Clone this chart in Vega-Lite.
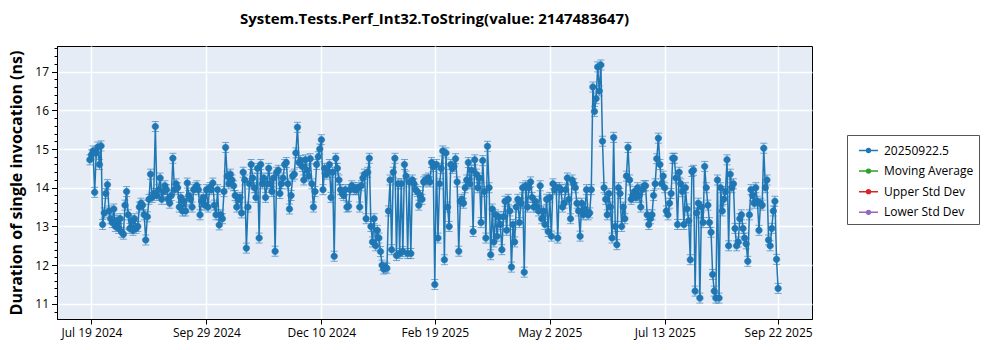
{
"$schema": "https://vega.github.io/schema/vega-lite/v6.json",
"width": 755, "height": 273,
"autosize": {"type": "none"},
"padding": {"left": 57, "top": 46, "right": 188, "bottom": 31},
"background": "white",
"title": {"text": "System.Tests.Perf_Int32.ToString(value: 2147483647)", "font": "Open Sans", "fontSize": 15, "fontWeight": "bold", "anchor": "middle", "offset": 19, "color": "black"},
"config": {
 "view": {"fill": "#E5ECF6", "stroke": "black", "strokeWidth": 1},
 "axis": {"labelFont": "Open Sans", "labelFontSize": 12, "labelColor": "black", "tickColor": "black", "domainColor": "black", "gridColor": "white", "gridWidth": 1.5, "titleFont": "Open Sans", "titleColor": "black"}
},
"data": {"values": [
{"d":"2024-07-18","v":14.72},{"d":"2024-07-19","v":14.85},{"d":"2024-07-20","v":14.95},{"d":"2024-07-21","v":13.88},{"d":"2024-07-22","v":14.9},{"d":"2024-07-23","v":15.05},{"d":"2024-07-24","v":14.6},{"d":"2024-07-25","v":15.08},{"d":"2024-07-26","v":13.05},{"d":"2024-07-27","v":13.35},{"d":"2024-07-28","v":13.85},{"d":"2024-07-29","v":14.08},{"d":"2024-07-30","v":13.4},{"d":"2024-07-31","v":13.2},
{"d":"2024-08-01","v":13.1},{"d":"2024-08-02","v":13.45},{"d":"2024-08-03","v":13.0},{"d":"2024-08-04","v":13.15},{"d":"2024-08-05","v":12.95},{"d":"2024-08-06","v":13.2},{"d":"2024-08-07","v":12.85},{"d":"2024-08-08","v":12.8},{"d":"2024-08-09","v":13.55},{"d":"2024-08-10","v":13.9},{"d":"2024-08-11","v":13.3},{"d":"2024-08-12","v":12.95},{"d":"2024-08-13","v":13.15},{"d":"2024-08-14","v":12.9},{"d":"2024-08-15","v":13.2},{"d":"2024-08-16","v":12.95},{"d":"2024-08-17","v":13.0},{"d":"2024-08-18","v":13.5},{"d":"2024-08-19","v":13.6},{"d":"2024-08-20","v":13.55},{"d":"2024-08-21","v":13.3},{"d":"2024-08-22","v":12.65},{"d":"2024-08-23","v":13.25},{"d":"2024-08-24","v":13.7},{"d":"2024-08-25","v":14.35},{"d":"2024-08-26","v":13.75},{"d":"2024-08-27","v":13.85},{"d":"2024-08-28","v":15.58},{"d":"2024-08-29","v":13.8},{"d":"2024-08-30","v":13.95},{"d":"2024-08-31","v":14.25},
{"d":"2024-09-01","v":13.7},{"d":"2024-09-02","v":13.9},{"d":"2024-09-03","v":14.05},{"d":"2024-09-04","v":13.95},{"d":"2024-09-05","v":13.7},{"d":"2024-09-06","v":13.6},{"d":"2024-09-07","v":13.8},{"d":"2024-09-08","v":14.76},{"d":"2024-09-09","v":13.95},{"d":"2024-09-10","v":14.1},{"d":"2024-09-11","v":14.0},{"d":"2024-09-12","v":13.5},{"d":"2024-09-13","v":13.75},{"d":"2024-09-14","v":13.4},{"d":"2024-09-15","v":13.65},{"d":"2024-09-16","v":13.4},{"d":"2024-09-17","v":14.12},{"d":"2024-09-18","v":13.8},{"d":"2024-09-19","v":13.7},{"d":"2024-09-20","v":13.5},{"d":"2024-09-21","v":13.95},{"d":"2024-09-22","v":14.0},{"d":"2024-09-23","v":14.05},{"d":"2024-09-24","v":13.95},{"d":"2024-09-25","v":13.3},{"d":"2024-09-26","v":13.65},{"d":"2024-09-27","v":13.75},{"d":"2024-09-28","v":13.55},{"d":"2024-09-29","v":13.95},{"d":"2024-09-30","v":13.5},
{"d":"2024-10-01","v":14.0},{"d":"2024-10-02","v":13.95},{"d":"2024-10-03","v":14.12},{"d":"2024-10-04","v":13.55},{"d":"2024-10-05","v":13.3},{"d":"2024-10-06","v":13.95},{"d":"2024-10-07","v":13.04},{"d":"2024-10-08","v":13.3},{"d":"2024-10-09","v":13.2},{"d":"2024-10-10","v":13.9},{"d":"2024-10-11","v":15.04},{"d":"2024-10-12","v":14.3},{"d":"2024-10-13","v":14.1},{"d":"2024-10-14","v":14.35},{"d":"2024-10-15","v":14.2},{"d":"2024-10-16","v":14.05},{"d":"2024-10-17","v":13.8},{"d":"2024-10-18","v":13.5},{"d":"2024-10-19","v":13.7},{"d":"2024-10-20","v":13.75},{"d":"2024-10-21","v":13.35},{"d":"2024-10-22","v":14.4},{"d":"2024-10-23","v":14.2},{"d":"2024-10-24","v":12.44},{"d":"2024-10-25","v":13.5},{"d":"2024-10-26","v":14.1},{"d":"2024-10-27","v":14.6},{"d":"2024-10-28","v":14.25},{"d":"2024-10-29","v":14.0},{"d":"2024-10-30","v":13.75},{"d":"2024-10-31","v":14.5},
{"d":"2024-11-01","v":12.7},{"d":"2024-11-02","v":14.6},{"d":"2024-11-03","v":14.1},{"d":"2024-11-04","v":14.25},{"d":"2024-11-05","v":13.75},{"d":"2024-11-06","v":14.1},{"d":"2024-11-07","v":14.5},{"d":"2024-11-08","v":14.1},{"d":"2024-11-09","v":13.9},{"d":"2024-11-10","v":14.25},{"d":"2024-11-11","v":12.36},{"d":"2024-11-12","v":14.4},{"d":"2024-11-13","v":14.45},{"d":"2024-11-14","v":13.85},{"d":"2024-11-15","v":14.1},{"d":"2024-11-16","v":14.25},{"d":"2024-11-17","v":14.6},{"d":"2024-11-18","v":14.65},{"d":"2024-11-19","v":14.1},{"d":"2024-11-20","v":13.45},{"d":"2024-11-21","v":13.8},{"d":"2024-11-22","v":14.3},{"d":"2024-11-23","v":14.35},{"d":"2024-11-24","v":14.9},{"d":"2024-11-25","v":15.56},{"d":"2024-11-26","v":14.65},{"d":"2024-11-27","v":14.7},{"d":"2024-11-28","v":14.55},{"d":"2024-11-29","v":14.2},{"d":"2024-11-30","v":14.72},
{"d":"2024-12-01","v":14.45},{"d":"2024-12-02","v":14.3},{"d":"2024-12-03","v":14.75},{"d":"2024-12-04","v":14.1},{"d":"2024-12-05","v":13.5},{"d":"2024-12-06","v":13.9},{"d":"2024-12-07","v":14.6},{"d":"2024-12-08","v":14.8},{"d":"2024-12-09","v":15.0},{"d":"2024-12-10","v":15.24},{"d":"2024-12-11","v":13.95},{"d":"2024-12-12","v":14.5},{"d":"2024-12-13","v":14.35},{"d":"2024-12-14","v":14.4},{"d":"2024-12-15","v":14.6},{"d":"2024-12-16","v":13.75},{"d":"2024-12-17","v":14.4},{"d":"2024-12-18","v":12.23},{"d":"2024-12-19","v":14.76},{"d":"2024-12-20","v":14.5},{"d":"2024-12-21","v":14.2},{"d":"2024-12-22","v":13.95},{"d":"2024-12-23","v":13.85},{"d":"2024-12-24","v":13.8},{"d":"2024-12-25","v":13.95},{"d":"2024-12-26","v":13.5},{"d":"2024-12-27","v":13.52},{"d":"2024-12-28","v":13.95},{"d":"2024-12-29","v":14.05},{"d":"2024-12-30","v":14.0},{"d":"2024-12-31","v":13.95},
{"d":"2025-01-01","v":13.95},{"d":"2025-01-02","v":14.0},{"d":"2025-01-03","v":13.5},{"d":"2025-01-04","v":14.05},{"d":"2025-01-05","v":14.25},{"d":"2025-01-06","v":14.35},{"d":"2025-01-07","v":13.2},{"d":"2025-01-08","v":14.4},{"d":"2025-01-09","v":14.76},{"d":"2025-01-10","v":13.0},{"d":"2025-01-11","v":12.6},{"d":"2025-01-12","v":13.2},{"d":"2025-01-13","v":12.5},{"d":"2025-01-14","v":12.9},{"d":"2025-01-15","v":12.7},{"d":"2025-01-16","v":12.35},{"d":"2025-01-17","v":12.0},{"d":"2025-01-18","v":11.9},{"d":"2025-01-19","v":11.95},{"d":"2025-01-20","v":11.92},{"d":"2025-01-21","v":13.4},{"d":"2025-01-22","v":14.2},{"d":"2025-01-23","v":12.4},{"d":"2025-01-24","v":14.4},{"d":"2025-01-25","v":14.76},{"d":"2025-01-26","v":12.25},{"d":"2025-01-27","v":14.1},{"d":"2025-01-28","v":12.3},{"d":"2025-01-29","v":14.1},{"d":"2025-01-30","v":12.35},{"d":"2025-01-31","v":14.6},
{"d":"2025-02-01","v":14.3},{"d":"2025-02-02","v":12.3},{"d":"2025-02-03","v":14.15},{"d":"2025-02-04","v":12.3},{"d":"2025-02-05","v":14.2},{"d":"2025-02-06","v":14.1},{"d":"2025-02-07","v":13.95},{"d":"2025-02-08","v":13.9},{"d":"2025-02-09","v":13.55},{"d":"2025-02-10","v":13.8},{"d":"2025-02-11","v":13.7},{"d":"2025-02-12","v":14.15},{"d":"2025-02-13","v":14.2},{"d":"2025-02-14","v":14.2},{"d":"2025-02-15","v":14.25},{"d":"2025-02-16","v":14.15},{"d":"2025-02-17","v":14.65},{"d":"2025-02-18","v":14.55},{"d":"2025-02-19","v":11.5},{"d":"2025-02-20","v":14.6},{"d":"2025-02-21","v":12.7},{"d":"2025-02-22","v":14.1},{"d":"2025-02-23","v":14.5},{"d":"2025-02-24","v":14.95},{"d":"2025-02-25","v":12.14},{"d":"2025-02-26","v":14.9},{"d":"2025-02-27","v":13.5},{"d":"2025-02-28","v":13.0},
{"d":"2025-03-01","v":14.6},{"d":"2025-03-02","v":14.5},{"d":"2025-03-03","v":14.55},{"d":"2025-03-04","v":14.75},{"d":"2025-03-05","v":14.15},{"d":"2025-03-06","v":12.36},{"d":"2025-03-07","v":13.65},{"d":"2025-03-08","v":13.7},{"d":"2025-03-09","v":13.6},{"d":"2025-03-10","v":14.0},{"d":"2025-03-11","v":14.2},{"d":"2025-03-12","v":14.65},{"d":"2025-03-13","v":14.1},{"d":"2025-03-14","v":14.45},{"d":"2025-03-15","v":12.87},{"d":"2025-03-16","v":14.72},{"d":"2025-03-17","v":14.35},{"d":"2025-03-18","v":14.0},{"d":"2025-03-19","v":14.25},{"d":"2025-03-20","v":13.1},{"d":"2025-03-21","v":14.7},{"d":"2025-03-22","v":13.9},{"d":"2025-03-23","v":12.7},{"d":"2025-03-24","v":15.07},{"d":"2025-03-25","v":14.0},{"d":"2025-03-26","v":12.27},{"d":"2025-03-27","v":13.45},{"d":"2025-03-28","v":12.6},{"d":"2025-03-29","v":13.3},{"d":"2025-03-30","v":12.75},{"d":"2025-03-31","v":13.25},
{"d":"2025-04-01","v":13.05},{"d":"2025-04-02","v":12.4},{"d":"2025-04-03","v":13.25},{"d":"2025-04-04","v":13.65},{"d":"2025-04-05","v":12.9},{"d":"2025-04-06","v":13.7},{"d":"2025-04-07","v":13.4},{"d":"2025-04-08","v":11.95},{"d":"2025-04-09","v":13.05},{"d":"2025-04-10","v":12.6},{"d":"2025-04-11","v":13.5},{"d":"2025-04-12","v":13.7},{"d":"2025-04-13","v":13.1},{"d":"2025-04-14","v":13.6},{"d":"2025-04-15","v":14.0},{"d":"2025-04-16","v":11.82},{"d":"2025-04-17","v":14.05},{"d":"2025-04-18","v":13.5},{"d":"2025-04-19","v":14.0},{"d":"2025-04-20","v":14.15},{"d":"2025-04-21","v":13.75},{"d":"2025-04-22","v":13.5},{"d":"2025-04-23","v":13.65},{"d":"2025-04-24","v":13.5},{"d":"2025-04-25","v":13.4},{"d":"2025-04-26","v":14.05},{"d":"2025-04-27","v":13.2},{"d":"2025-04-28","v":13.4},{"d":"2025-04-29","v":13.05},{"d":"2025-04-30","v":13.7},
{"d":"2025-05-01","v":12.87},{"d":"2025-05-02","v":13.75},{"d":"2025-05-03","v":12.75},{"d":"2025-05-04","v":14.1},{"d":"2025-05-05","v":13.95},{"d":"2025-05-06","v":14.0},{"d":"2025-05-07","v":12.7},{"d":"2025-05-08","v":14.0},{"d":"2025-05-09","v":13.95},{"d":"2025-05-10","v":13.5},{"d":"2025-05-11","v":13.6},{"d":"2025-05-12","v":13.95},{"d":"2025-05-13","v":14.25},{"d":"2025-05-14","v":13.7},{"d":"2025-05-15","v":13.2},{"d":"2025-05-16","v":14.2},{"d":"2025-05-17","v":14.1},{"d":"2025-05-18","v":14.0},{"d":"2025-05-19","v":13.6},{"d":"2025-05-20","v":13.4},{"d":"2025-05-21","v":12.75},{"d":"2025-05-22","v":13.6},{"d":"2025-05-23","v":13.3},{"d":"2025-05-24","v":13.45},{"d":"2025-05-25","v":13.95},{"d":"2025-05-26","v":13.3},{"d":"2025-05-27","v":13.35},{"d":"2025-05-28","v":13.95},{"d":"2025-05-29","v":16.6},{"d":"2025-05-30","v":15.97},{"d":"2025-05-31","v":16.3},
{"d":"2025-06-01","v":17.12},{"d":"2025-06-02","v":16.5},{"d":"2025-06-03","v":17.17},{"d":"2025-06-04","v":15.2},{"d":"2025-06-05","v":14.0},{"d":"2025-06-06","v":13.7},{"d":"2025-06-07","v":13.3},{"d":"2025-06-08","v":13.85},{"d":"2025-06-09","v":13.5},{"d":"2025-06-10","v":12.7},{"d":"2025-06-11","v":15.3},{"d":"2025-06-12","v":13.0},{"d":"2025-06-13","v":12.53},{"d":"2025-06-14","v":14.0},{"d":"2025-06-15","v":13.85},{"d":"2025-06-16","v":13.0},{"d":"2025-06-17","v":13.5},{"d":"2025-06-18","v":13.2},{"d":"2025-06-19","v":14.3},{"d":"2025-06-20","v":15.04},{"d":"2025-06-21","v":14.2},{"d":"2025-06-22","v":13.7},{"d":"2025-06-23","v":13.8},{"d":"2025-06-24","v":13.9},{"d":"2025-06-25","v":13.75},{"d":"2025-06-26","v":14.0},{"d":"2025-06-27","v":13.8},{"d":"2025-06-28","v":13.5},{"d":"2025-06-29","v":13.95},{"d":"2025-06-30","v":14.05},
{"d":"2025-07-01","v":14.05},{"d":"2025-07-02","v":13.3},{"d":"2025-07-03","v":13.05},{"d":"2025-07-04","v":13.2},{"d":"2025-07-05","v":13.3},{"d":"2025-07-06","v":13.8},{"d":"2025-07-07","v":14.1},{"d":"2025-07-08","v":14.75},{"d":"2025-07-09","v":15.28},{"d":"2025-07-10","v":14.6},{"d":"2025-07-11","v":14.1},{"d":"2025-07-12","v":14.3},{"d":"2025-07-13","v":14.0},{"d":"2025-07-14","v":13.4},{"d":"2025-07-15","v":13.3},{"d":"2025-07-16","v":13.6},{"d":"2025-07-17","v":13.85},{"d":"2025-07-18","v":14.76},{"d":"2025-07-19","v":14.76},{"d":"2025-07-20","v":14.25},{"d":"2025-07-21","v":13.05},{"d":"2025-07-22","v":14.4},{"d":"2025-07-23","v":14.1},{"d":"2025-07-24","v":13.9},{"d":"2025-07-25","v":13.05},{"d":"2025-07-26","v":14.0},{"d":"2025-07-27","v":13.45},{"d":"2025-07-28","v":13.15},{"d":"2025-07-29","v":12.14},{"d":"2025-07-30","v":14.42},{"d":"2025-07-31","v":14.45},
{"d":"2025-08-01","v":11.33},{"d":"2025-08-02","v":13.35},{"d":"2025-08-03","v":13.6},{"d":"2025-08-04","v":11.15},{"d":"2025-08-05","v":13.5},{"d":"2025-08-06","v":13.1},{"d":"2025-08-07","v":14.55},{"d":"2025-08-08","v":14.0},{"d":"2025-08-09","v":13.55},{"d":"2025-08-10","v":13.1},{"d":"2025-08-11","v":12.85},{"d":"2025-08-12","v":11.76},{"d":"2025-08-13","v":11.33},{"d":"2025-08-14","v":11.15},{"d":"2025-08-15","v":14.2},{"d":"2025-08-16","v":11.15},{"d":"2025-08-17","v":14.0},{"d":"2025-08-18","v":13.4},{"d":"2025-08-19","v":13.7},{"d":"2025-08-20","v":13.9},{"d":"2025-08-21","v":14.72},{"d":"2025-08-22","v":12.5},{"d":"2025-08-23","v":14.35},{"d":"2025-08-24","v":14.0},{"d":"2025-08-25","v":14.1},{"d":"2025-08-26","v":12.95},{"d":"2025-08-27","v":12.5},{"d":"2025-08-28","v":12.6},{"d":"2025-08-29","v":13.2},{"d":"2025-08-30","v":13.3},{"d":"2025-08-31","v":12.95},
{"d":"2025-09-01","v":12.7},{"d":"2025-09-02","v":12.55},{"d":"2025-09-03","v":12.1},{"d":"2025-09-04","v":13.3},{"d":"2025-09-05","v":13.95},{"d":"2025-09-06","v":13.8},{"d":"2025-09-07","v":13.6},{"d":"2025-09-08","v":14.0},{"d":"2025-09-09","v":13.65},{"d":"2025-09-10","v":12.9},{"d":"2025-09-11","v":13.6},{"d":"2025-09-12","v":13.55},{"d":"2025-09-13","v":15.02},{"d":"2025-09-14","v":14.0},{"d":"2025-09-15","v":14.2},{"d":"2025-09-16","v":12.65},{"d":"2025-09-17","v":12.5},{"d":"2025-09-18","v":12.95},{"d":"2025-09-19","v":13.4},{"d":"2025-09-20","v":13.65},{"d":"2025-09-21","v":12.15},{"d":"2025-09-22","v":11.4}
]},
"layer": [
 {"mark": {"type": "line", "strokeWidth": 1.5},
  "encoding": {
   "x": {"field": "d", "type": "temporal",
     "scale": {"type": "utc", "domain": [{"year": 2024, "month": "jun", "date": 27, "hours": 10, "utc": true}, {"year": 2025, "month": "oct", "date": 13, "hours": 5, "utc": true}]},
     "axis": {"title": null, "format": "%b %-d %Y", "grid": true, "tickSize": 5, "labelPadding": 3, "labelFlush": false, "labelOverlap": false, "labelBound": false,
       "values": [{"year": 2024, "month": "jul", "date": 19, "utc": true}, {"year": 2024, "month": "sep", "date": 29, "utc": true}, {"year": 2024, "month": "dec", "date": 10, "utc": true}, {"year": 2025, "month": "feb", "date": 19, "utc": true}, {"year": 2025, "month": "may", "date": 2, "utc": true}, {"year": 2025, "month": "jul", "date": 13, "utc": true}, {"year": 2025, "month": "sep", "date": 22, "utc": true}]}},
   "y": {"field": "v", "type": "quantitative",
     "scale": {"domain": [10.61, 17.66], "zero": false, "nice": false},
     "axis": {"title": "Duration of single invocation (ns)", "titleFontSize": 16, "titleFontWeight": "bold", "titlePadding": 10, "values": [11, 12, 13, 14, 15, 16, 17], "grid": true, "tickSize": 5.5, "labelPadding": 3}},
   "color": {"datum": "20250922.5",
     "scale": {"domain": ["20250922.5", "Moving Average", "Upper Std Dev", "Lower Std Dev"], "range": ["#1f77b4", "#2ca02c", "#d62728", "#9467bd"]},
     "legend": {"title": null, "orient": "none", "legendX": 790, "legendY": 89,
       "symbolType": "M-1,0H1M-0.2,0A0.2,0.2,0,1,0,0.2,0A0.2,0.2,0,1,0,-0.2,0ZM-0.1,0A0.1,0.1,0,1,0,0.1,0A0.1,0.1,0,1,0,-0.1,0Z",
       "symbolSize": 361, "symbolStrokeWidth": 1.5, "symbolOffset": 6, "symbolOpacity": 1,
       "labelFont": "Open Sans", "labelFontSize": 12, "labelColor": "black", "labelOffset": 5,
       "padding": 5, "rowPadding": 3.6, "fillColor": "white", "strokeColor": "#555"}}
  }},
 {"mark": {"type": "point", "filled": true, "opacity": 1, "size": 100, "fill": "#1f77b4", "stroke": "#1f77b4", "strokeWidth": 1, "strokeOpacity": 0.6,
    "shape": "M-0.7,-1H0.7M0,-1V1M-0.7,1H0.7M-0.65,0A0.65,0.65,0,1,0,0.65,0A0.65,0.65,0,1,0,-0.65,0Z"},
  "encoding": {
   "x": {"field": "d", "type": "temporal"},
   "y": {"field": "v", "type": "quantitative",
     "axis": {"orient": "left", "title": null, "labels": false, "grid": false, "domain": false, "tickSize": 3,
       "values": [10.8, 11, 11.2, 11.4, 11.6, 11.8, 12, 12.2, 12.4, 12.6, 12.8, 13, 13.2, 13.4, 13.6, 13.8, 14, 14.2, 14.4, 14.6, 14.8, 15, 15.2, 15.4, 15.6, 15.8, 16, 16.2, 16.4, 16.6, 16.8, 17, 17.2, 17.4, 17.6]}}
  }}
],
"resolve": {"axis": {"y": "independent"}}
}
